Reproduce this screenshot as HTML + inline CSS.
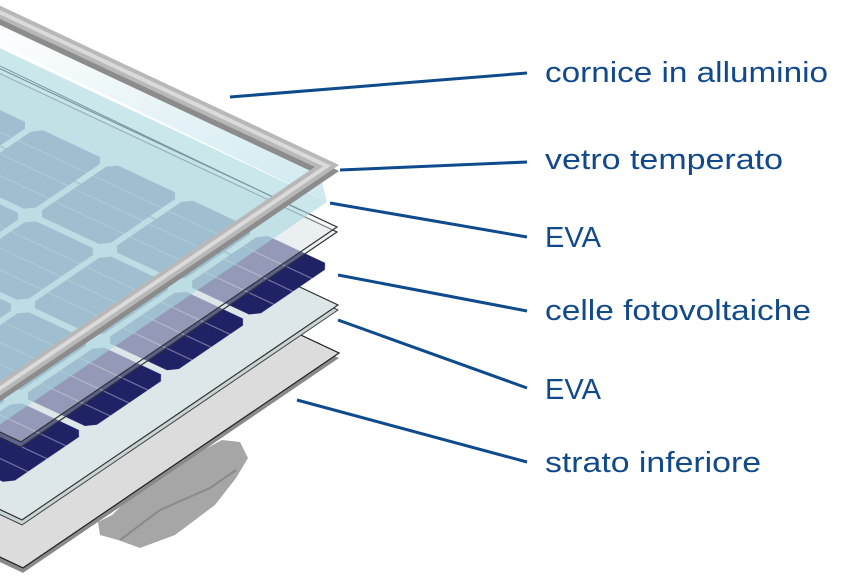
<!DOCTYPE html>
<html><head><meta charset="utf-8"><style>
html,body{margin:0;padding:0;background:#fff;}
svg{display:block}
text{font-family:"Liberation Sans",sans-serif;fill:#11498a;font-size:29px;}
</style></head><body>
<svg width="862" height="576" viewBox="0 0 862 576" xmlns="http://www.w3.org/2000/svg">
<defs>
  <pattern id="cells" patternUnits="userSpaceOnUse" width="82" height="75">
    <path d="M9,3 H73 L79,9 V66 L73,72 H9 L3,66 V9 Z" fill="#1f2366"/>
    <g stroke="#ffffff" stroke-opacity="0.35" stroke-width="1.2">
      <line x1="22" y1="3" x2="22" y2="72"/><line x1="41" y1="3" x2="41" y2="72"/><line x1="60" y1="3" x2="60" y2="72"/>
    </g>
  </pattern>
  <linearGradient id="gl" x1="0" y1="0" x2="1" y2="1">
    <stop offset="0" stop-color="#ffffff"/><stop offset="1" stop-color="#cfe9ef"/>
  </linearGradient>
</defs>

<!-- junction box -->
<path d="M98,522 L112,515 L150,478 L222,440 L240,442 L248,458 L236,478 L215,505 L175,535 L140,548 L118,540 L100,535 Z" fill="#a6a6a6"/>
<path d="M120,540 L160,510 L210,488 L236,470" stroke="#8a8a8a" stroke-width="2" fill="none"/>

<!-- backsheet -->
<g transform="matrix(-1,0.68,-1,-0.47,339,358)">
  <rect x="0" y="0" width="316" height="420" fill="#8a8a8a"/>
</g>
<g transform="matrix(-1,0.68,-1,-0.47,339,353)">
  <rect x="0" y="0" width="316" height="420" fill="#dcdcdc" stroke="#222" stroke-width="1.2" vector-effect="non-scaling-stroke"/>
</g>

<!-- EVA2 -->
<g transform="matrix(-1,0.68,-1,-0.47,338,310)">
  <rect x="0" y="0" width="316" height="420" fill="#c9d4d7" stroke="#444" stroke-width="1" vector-effect="non-scaling-stroke"/>
</g>
<g transform="matrix(-1,0.68,-1,-0.47,338,305)">
  <rect x="0" y="0" width="316" height="420" fill="#dde6e9" stroke="#333" stroke-width="1.2" vector-effect="non-scaling-stroke"/>
</g>

<!-- cells -->
<g transform="matrix(-1,0.68,-1,-0.47,337,265)">
  <rect x="0" y="0" width="420" height="420" fill="url(#cells)"/>
</g>

<!-- EVA1 -->
<g transform="matrix(-1,0.68,-1,-0.47,337,232)">
  <rect x="0" y="0" width="316" height="420" fill="#c8d8dc" fill-opacity="0.35" stroke="#333" stroke-width="1.2" vector-effect="non-scaling-stroke"/>
</g>
<g transform="matrix(-1,0.68,-1,-0.47,337,227)">
  <rect x="0" y="0" width="316" height="420" fill="#e8eef0" fill-opacity="0.4" stroke="#333" stroke-width="1.2" vector-effect="non-scaling-stroke"/>
</g>

<!-- glass -->
<g transform="matrix(-1,0.68,-1,-0.47,327,202)">
  <rect x="0" y="0" width="420" height="420" fill="#a7d7e0" fill-opacity="0.6"/>
</g>

<!-- area inside frame above glass -->
<path d="M318,166 L0,16 L0,44 L327,202 Z" fill="url(#gl)"/>
<path d="M0,66 L300,210" stroke="#7a9aa2" stroke-width="1" fill="none"/>

<!-- frame -->
<g transform="matrix(-1,0.68,-1,-0.47,327,172)">
  <path d="M0,420 L0,0 L420,0" fill="none" stroke="#8c8c8c" stroke-width="12" vector-effect="non-scaling-stroke"/>
</g>
<g transform="matrix(-1,0.68,-1,-0.47,327,166)">
  <path d="M0,420 L0,0 L420,0" fill="none" stroke="#b8b8b8" stroke-width="12" vector-effect="non-scaling-stroke"/>
  <path d="M0,420 L0,0 L420,0" fill="none" stroke="#dadada" stroke-width="4" vector-effect="non-scaling-stroke"/>
</g>

<!-- connectors -->
<g stroke="#0e4a8c" stroke-width="3" fill="none">
  <line x1="230" y1="97" x2="527" y2="73"/>
  <line x1="340" y1="170" x2="527" y2="162"/>
  <line x1="330" y1="203" x2="527" y2="237"/>
  <line x1="338" y1="275" x2="527" y2="311"/>
  <line x1="338" y1="320" x2="527" y2="388"/>
  <line x1="297" y1="400" x2="527" y2="462"/>
</g>

<text x="545" y="82" textLength="283" lengthAdjust="spacingAndGlyphs">cornice in alluminio</text>
<text x="545" y="169" textLength="238" lengthAdjust="spacingAndGlyphs">vetro temperato</text>
<text x="545" y="247" textLength="56" lengthAdjust="spacingAndGlyphs">EVA</text>
<text x="545" y="320" textLength="266" lengthAdjust="spacingAndGlyphs">celle fotovoltaiche</text>
<text x="545" y="399" textLength="56" lengthAdjust="spacingAndGlyphs">EVA</text>
<text x="545" y="472" textLength="216" lengthAdjust="spacingAndGlyphs">strato inferiore</text>
</svg>
</body></html>
